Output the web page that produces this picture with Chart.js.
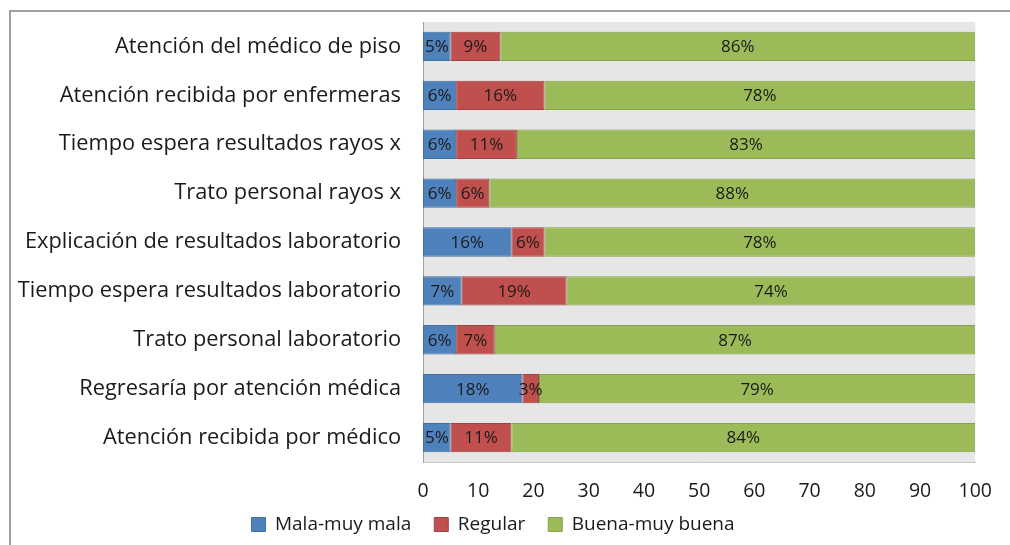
<!DOCTYPE html>
<html>
<head>
<meta charset="utf-8">
<script src="https://cdn.jsdelivr.net/npm/chart.js@4"></script>
<style>
  html, body { margin: 0; padding: 0; background: #fff; }
  #wrap { position: relative; width: 1010px; height: 545px; overflow: hidden; }
  #frame { position: absolute; left: 9px; top: 10px; width: 1100px; height: 600px;
    border-left: 2px solid #a0a0a0; border-top: 2px solid #a0a0a0; }
  canvas { position: absolute; left: 0; top: 0; }
</style>
</head>
<body>
<div id="wrap">
  <div id="frame"></div>
  <canvas id="satisfaccion" width="1010" height="545"></canvas>
</div>
<script>
const categories = [
  'Atención del médico de piso',
  'Atención recibida por enfermeras',
  'Tiempo espera resultados rayos x',
  'Trato personal rayos x',
  'Explicación de resultados laboratorio',
  'Tiempo espera resultados laboratorio',
  'Trato personal laboratorio',
  'Regresaría por atención médica',
  'Atención recibida por médico',
];
const mala = [5, 6, 6, 6, 16, 7, 6, 18, 5];
const regular = [9, 16, 11, 6, 6, 19, 7, 3, 11];
const buena = [86, 78, 83, 88, 78, 74, 87, 79, 84];
const xTicks = [0, 10, 20, 30, 40, 50, 60, 70, 80, 90, 100];

const FONT = 'Open Sans';
const textColor = '#1a1a1a';

// gray plot background
const plotBackground = {
  id: 'plotBackground',
  beforeDraw(chart) {
    const { ctx, chartArea: a } = chart;
    ctx.save();
    ctx.fillStyle = '#e6e6e6';
    ctx.fillRect(a.left, a.top, a.right - a.left, a.bottom - a.top);
    ctx.restore();
  },
};

// legend padding is also used between items, so pull the row up a bit
const legendNudge = {
  id: 'legendNudge',
  afterLayout(chart) {
    chart.legend.top -= 11;
    chart.legend.bottom -= 11;
  },
};

// percentage text inside each segment
const segmentLabels = {
  id: 'segmentLabels',
  afterDatasetsDraw(chart) {
    const { ctx } = chart;
    ctx.save();
    ctx.font = `17px "${FONT}"`;
    ctx.fillStyle = textColor;
    ctx.textAlign = 'center';
    ctx.textBaseline = 'middle';
    chart.data.datasets.forEach((ds, i) => {
      chart.getDatasetMeta(i).data.forEach((bar, j) => {
        const { x, base, y } = bar.getProps(['x', 'base', 'y'], true);
        ctx.fillText(`${ds.data[j]}%`, (x + base) / 2, y + 1);
      });
    });
    ctx.restore();
  },
};

const ctx = document.getElementById('satisfaccion');
new Chart(ctx, {
  type: 'bar',
  data: {
    labels: categories,
    datasets: [
      { label: 'Mala-muy mala', data: mala, backgroundColor: '#4f81bd', borderColor: '#41719f' },
      { label: 'Regular', data: regular, backgroundColor: '#c0504d', borderColor: '#a0423f' },
      { label: 'Buena-muy buena', data: buena, backgroundColor: '#9bbb59', borderColor: '#84a24a' },
    ],
  },
  options: {
    indexAxis: 'y',
    responsive: false,
    animation: false,
    devicePixelRatio: 1,
    datasets: {
      bar: { borderWidth: 1, borderSkipped: false, barPercentage: 0.6, categoryPercentage: 1 },
    },
    layout: { padding: { top: 22, right: 24, left: 0, bottom: 0 } },
    scales: {
      x: {
        stacked: true,
        min: 0,
        max: 100,
        afterBuildTicks(scale) { scale.ticks = xTicks.map((v) => ({ value: v })); },
        afterFit(scale) { scale.height = 41; },
        grid: { display: false, drawTicks: false },
        border: { display: true, color: '#c8c8c8' },
        ticks: { color: textColor, font: { family: FONT, size: 19.5 }, padding: 18 },
      },
      y: {
        stacked: true,
        afterFit(scale) {
          scale.width = 423;
          scale.paddingTop = 0;
          scale.paddingBottom = 0;
        },
        grid: { display: false, drawTicks: false },
        border: { display: true, color: '#a0a0a0' },
        ticks: { color: textColor, font: { family: FONT, size: 21.8 }, padding: 22 },
      },
    },
    plugins: {
      legend: {
        position: 'bottom',
        maxHeight: 42,
        labels: {
          color: textColor,
          font: { family: FONT, size: 19 },
          boxWidth: 14,
          boxHeight: 14,
          padding: 23,
          useBorderRadius: false,
        },
      },
      tooltip: { enabled: false },
    },
  },
  plugins: [plotBackground, legendNudge, segmentLabels],
});
</script>
</body>
</html>
